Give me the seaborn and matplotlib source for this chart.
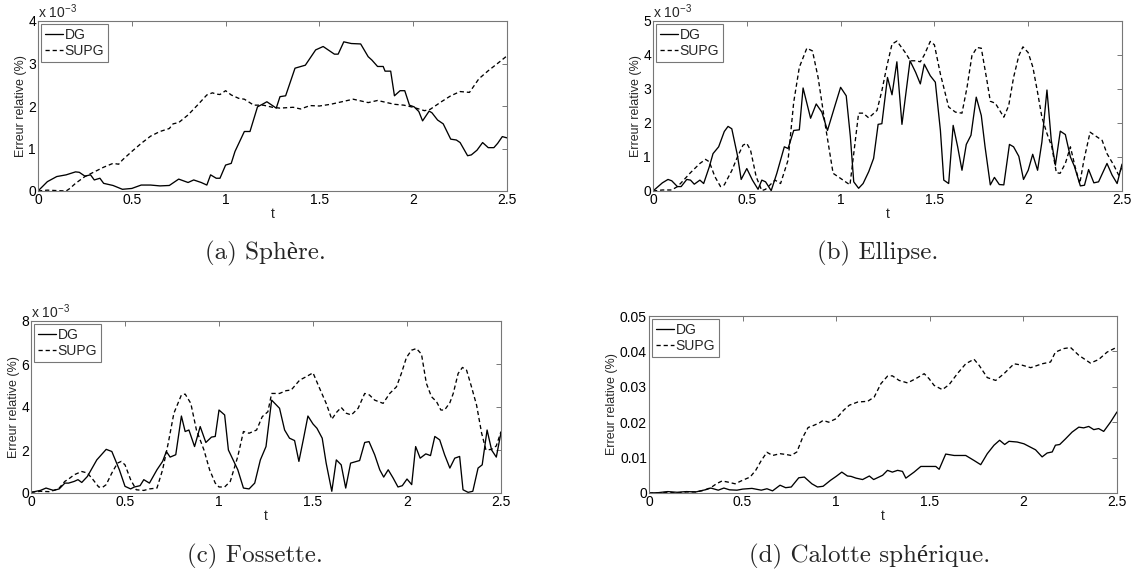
import matplotlib
matplotlib.use("Agg")
import matplotlib.pyplot as plt
import seaborn as sns
import pandas as pd

# ---------------- data ----------------
# (a) Sphere  (values in 1e-3 %)
t_sphere_dg = [0,0.05,0.1,0.15,0.2,0.22,0.25,0.28,0.3,0.33,0.35,0.4,0.45,0.5,0.55,0.6,0.65,0.7,0.75,0.8,
               0.83,0.87,0.9,0.92,0.95,0.97,1.0,1.03,1.05,1.1,1.13,1.17,1.2,1.22,1.27,1.29,1.32,1.37,1.425,1.48,
               1.52,1.58,1.6,1.63,1.67,1.72,1.76,1.78,1.81,1.84,1.85,1.88,1.9,1.93,1.955,1.98,2.005,2.03,2.05,2.085,
               2.1,2.13,2.16,2.2,2.23,2.25,2.29,2.31,2.34,2.37,2.4,2.43,2.45,2.475,2.5]
err_sphere_dg = [0,0.22,0.34,0.38,0.45,0.44,0.35,0.38,0.26,0.30,0.18,0.13,0.04,0.06,0.14,0.14,0.12,0.13,0.28,0.2,
                 0.26,0.2,0.14,0.38,0.3,0.3,0.61,0.65,0.93,1.4,1.4,1.98,2.05,2.1,1.95,2.22,2.24,2.89,2.96,3.32,
                 3.4,3.22,3.22,3.51,3.47,3.46,3.16,3.08,2.93,2.93,2.82,2.82,2.24,2.36,2.36,2.02,1.98,1.87,1.65,1.88,
                 1.84,1.67,1.58,1.22,1.2,1.14,0.83,0.85,0.96,1.14,1.02,1.02,1.12,1.28,1.25]
t_sphere_supg = [0,0.05,0.1,0.15,0.17,0.2,0.25,0.3,0.35,0.4,0.43,0.45,0.5,0.55,0.6,0.65,0.7,0.72,0.75,0.8,
                 0.85,0.9,0.93,0.95,0.97,1.0,1.03,1.07,1.1,1.15,1.2,1.25,1.29,1.36,1.4,1.45,1.5,1.56,1.62,1.68,
                 1.76,1.81,1.9,1.95,2.0,2.06,2.09,2.15,2.2,2.25,2.3,2.35,2.4,2.455,2.5]
err_sphere_supg = [0,0.02,0.01,0.0,0.06,0.18,0.34,0.45,0.56,0.65,0.63,0.73,0.93,1.12,1.29,1.4,1.47,1.58,1.61,1.79,
                   2.02,2.26,2.31,2.28,2.27,2.36,2.26,2.18,2.16,2.02,2.02,1.97,1.95,1.97,1.93,2.01,2.0,2.04,2.1,2.16,
                   2.08,2.13,2.04,2.02,1.97,1.89,1.92,2.1,2.24,2.34,2.32,2.64,2.83,3.02,3.18]

# (b) Ellipse (values in 1e-3 %)
t_ellipse_dg = [0,0.05,0.08,0.1,0.13,0.15,0.18,0.2,0.22,0.25,0.27,0.3,0.32,0.35,0.38,0.4,0.42,0.45,0.47,0.5,
                0.53,0.56,0.58,0.6,0.63,0.66,0.7,0.72,0.75,0.78,0.8,0.84,0.87,0.9,0.93,0.97,1.0,1.03,1.052,1.07,
                1.096,1.12,1.15,1.176,1.2,1.22,1.25,1.274,1.3,1.327,1.37,1.4,1.425,1.446,1.478,1.505,1.532,1.55,1.576,1.6,
                1.624,1.647,1.67,1.695,1.723,1.75,1.77,1.798,1.82,1.846,1.87,1.9,1.922,1.95,1.975,2.0,2.024,2.05,2.073,2.1,
                2.123,2.145,2.171,2.198,2.225,2.246,2.278,2.3,2.322,2.35,2.375,2.42,2.447,2.474,2.5]
err_ellipse_dg = [0,0.24,0.34,0.3,0.13,0.13,0.34,0.32,0.2,0.32,0.22,0.71,1.1,1.3,1.75,1.9,1.83,1.05,0.34,0.66,
                  0.32,0.05,0.32,0.27,0.01,0.52,1.3,1.25,1.78,1.8,3.03,2.14,2.56,2.32,1.78,2.51,3.05,2.8,1.6,0.27,
                  0.08,0.22,0.57,0.96,1.96,1.98,3.34,2.83,3.8,1.96,3.83,3.49,3.15,3.73,3.39,3.2,1.78,0.32,0.22,1.93,
                  1.3,0.61,1.37,1.64,2.76,2.22,1.3,0.18,0.4,0.19,0.18,1.37,1.3,1.02,0.34,0.61,1.08,0.61,1.44,2.97,
                  1.49,0.76,1.76,1.66,1.0,0.73,0.15,0.17,0.63,0.24,0.27,0.81,0.47,0.22,0.79]
t_ellipse_supg = [0,0.05,0.1,0.13,0.15,0.2,0.25,0.28,0.3,0.33,0.36,0.38,0.42,0.45,0.48,0.5,0.52,0.55,0.58,0.6,
                  0.65,0.68,0.72,0.75,0.78,0.82,0.85,0.88,0.92,0.96,1.0,1.05,1.096,1.12,1.15,1.194,1.22,1.247,1.274,1.3,
                  1.345,1.372,1.4,1.425,1.446,1.478,1.5,1.532,1.576,1.612,1.647,1.674,1.7,1.727,1.75,1.78,1.798,1.825,1.87,1.896,
                  1.922,1.95,1.972,2.0,2.025,2.05,2.073,2.1,2.126,2.15,2.17,2.198,2.225,2.25,2.275,2.297,2.33,2.367,2.394,2.42,
                  2.456,2.482,2.5]
err_ellipse_supg = [0,0.03,0.03,0.13,0.24,0.54,0.81,0.93,0.86,0.42,0.13,0.18,0.6,1.0,1.35,1.4,1.2,0.42,0.01,0.05,
                    0.32,0.22,0.91,2.61,3.64,4.2,4.12,3.34,1.88,0.52,0.37,0.18,2.29,2.29,2.15,2.37,2.95,3.68,4.32,4.41,
                    4.07,3.83,3.83,3.8,4.0,4.4,4.3,3.44,2.47,2.32,2.29,3.05,3.98,4.22,4.2,3.25,2.64,2.58,2.17,2.51,
                    3.34,3.98,4.24,4.07,3.64,2.9,2.17,1.69,1.3,0.54,0.52,0.81,1.3,0.71,0.22,0.91,1.73,1.59,1.49,1.1,
                    0.76,0.47,0.71]

# (c) Fossette (values in 1e-3 %)
t_fossette_dg = [0,0.05,0.08,0.12,0.15,0.18,0.2,0.23,0.25,0.27,0.3,0.35,0.4,0.43,0.47,0.5,0.53,0.55,0.58,0.6,
                 0.63,0.67,0.7,0.72,0.74,0.77,0.8,0.82,0.84,0.87,0.9,0.93,0.96,0.98,1.0,1.03,1.05,1.1,1.13,1.16,
                 1.19,1.22,1.25,1.28,1.322,1.349,1.375,1.402,1.425,1.45,1.473,1.5,1.521,1.549,1.57,1.6,1.624,1.65,1.674,1.7,
                 1.748,1.775,1.798,1.828,1.855,1.876,1.9,1.926,1.952,1.975,2.0,2.025,2.046,2.07,2.1,2.125,2.148,2.174,2.2,2.228,
                 2.254,2.28,2.298,2.325,2.35,2.378,2.4,2.426,2.45,2.475,2.5]
err_fossette_dg = [0.03,0.12,0.23,0.12,0.19,0.46,0.46,0.54,0.62,0.49,0.77,1.54,2.03,1.93,1.08,0.31,0.19,0.28,0.34,0.62,
                   0.46,1.08,1.47,1.93,1.67,1.78,3.58,2.86,2.93,2.16,3.09,2.35,2.6,2.63,3.86,3.63,2.0,1.08,0.23,0.19,
                   0.46,1.54,2.16,4.32,3.94,2.93,2.55,2.44,1.47,2.55,3.58,3.21,3.01,2.55,1.39,0.08,1.54,1.31,0.23,1.39,
                   1.51,2.35,2.39,1.78,1.08,0.74,1.08,0.7,0.28,0.34,0.65,0.39,2.16,1.62,1.82,1.74,2.63,2.47,1.78,1.16,
                   1.62,1.7,0.15,0.03,0.08,1.16,1.31,2.93,2.0,1.67,2.81]
t_fossette_supg = [0,0.05,0.1,0.13,0.15,0.18,0.2,0.23,0.27,0.3,0.33,0.36,0.38,0.4,0.43,0.46,0.48,0.5,0.53,0.56,
                   0.6,0.63,0.67,0.7,0.73,0.76,0.8,0.82,0.85,0.88,0.92,0.95,0.98,1.0,1.03,1.06,1.1,1.13,1.16,1.2,
                   1.23,1.26,1.28,1.322,1.357,1.384,1.429,1.464,1.5,1.535,1.57,1.6,1.624,1.65,1.677,1.704,1.74,1.775,1.8,1.828,
                   1.873,1.908,1.944,1.97,1.997,2.024,2.05,2.077,2.103,2.13,2.157,2.18,2.2,2.228,2.246,2.272,2.295,2.317,2.343,2.37,
                   2.397,2.42,2.45,2.475,2.5]
err_fossette_supg = [0.03,0.08,0.06,0.15,0.23,0.54,0.65,0.85,1.0,0.93,0.62,0.28,0.26,0.39,0.93,1.39,1.47,1.31,0.62,0.15,
                     0.12,0.19,0.23,1.08,2.32,3.71,4.56,4.6,4.17,2.93,2.0,1.08,0.46,0.28,0.28,0.54,1.7,2.86,2.78,2.93,
                     3.55,3.78,4.63,4.63,4.76,4.79,5.25,5.41,5.59,4.87,4.17,3.43,3.74,3.98,3.71,3.63,3.94,4.63,4.56,4.32,
                     4.17,4.63,4.94,5.56,6.3,6.64,6.72,6.46,5.1,4.48,4.25,3.86,3.86,4.2,4.63,5.56,5.84,5.71,4.94,4.09,
                     2.78,2.0,2.03,2.19,2.86]

# (d) Calotte spherique (values in %)
t_calotte_dg = [0,0.05,0.1,0.15,0.2,0.25,0.3,0.33,0.37,0.4,0.43,0.47,0.5,0.55,0.6,0.63,0.66,0.7,0.73,0.76,
                0.8,0.83,0.87,0.9,0.93,0.97,1.0,1.03,1.06,1.079,1.106,1.141,1.177,1.2,1.248,1.274,1.3,1.328,1.354,1.372,
                1.416,1.452,1.496,1.532,1.55,1.585,1.63,1.692,1.736,1.772,1.807,1.843,1.873,1.9,1.923,1.967,2.003,2.065,2.1,2.127,
                2.154,2.171,2.194,2.225,2.26,2.296,2.322,2.349,2.376,2.402,2.429,2.465,2.5]
err_calotte_dg = [0,0.0001,0.0004,0.0002,0.0004,0.0003,0.0009,0.0014,0.0008,0.0014,0.0009,0.0008,0.0011,0.0013,0.0008,0.0012,0.0006,0.0022,0.0015,0.0017,
                  0.0043,0.0045,0.0026,0.0017,0.0019,0.0036,0.0047,0.0059,0.0048,0.0047,0.0042,0.0038,0.0048,0.0038,0.005,0.0064,0.0059,0.0064,0.0061,0.0042,
                  0.0059,0.0075,0.0075,0.0075,0.0067,0.011,0.0106,0.0106,0.0092,0.008,0.0111,0.0135,0.0149,0.0137,0.0146,0.0144,0.0139,0.0122,0.0102,0.0113,
                  0.0116,0.0135,0.0137,0.0153,0.0172,0.0186,0.0184,0.0188,0.0179,0.0182,0.0174,0.02,0.0229]
t_calotte_supg = [0,0.05,0.1,0.15,0.2,0.25,0.28,0.3,0.33,0.36,0.39,0.42,0.46,0.5,0.54,0.57,0.6,0.63,0.66,0.7,
                  0.73,0.76,0.79,0.82,0.85,0.88,0.91,0.93,0.96,1.0,1.04,1.07,1.115,1.168,1.203,1.239,1.274,1.3,1.336,1.381,
                  1.425,1.47,1.496,1.523,1.567,1.603,1.647,1.692,1.736,1.763,1.807,1.852,1.896,1.95,1.994,2.039,2.1,2.145,2.171,2.216,
                  2.252,2.296,2.358,2.402,2.447,2.5]
err_calotte_supg = [0,0,0.0002,0,0.0003,0.0003,0.0006,0.0009,0.0015,0.0026,0.0034,0.0031,0.0026,0.0036,0.0045,0.0064,0.0092,0.0115,0.0106,0.0111,
                    0.0109,0.0106,0.0116,0.0156,0.0185,0.0191,0.0198,0.0205,0.02,0.021,0.0234,0.0248,0.0257,0.0259,0.0271,0.0309,0.033,0.0331,0.0318,0.0311,
                    0.0323,0.0337,0.0323,0.0304,0.0292,0.0306,0.0337,0.0365,0.0378,0.0361,0.0326,0.0318,0.0337,0.0365,0.0361,0.0354,0.0365,0.037,0.0398,0.0408,
                    0.0411,0.0389,0.0367,0.0377,0.0398,0.0412]

x_ticks = [0, 0.5, 1, 1.5, 2, 2.5]
x_tick_labels = ["0", "0.5", "1", "1.5", "2", "2.5"]
series_labels = ["DG", "SUPG"]
captions = ["(a) Sphère.", "(b) Ellipse.", "(c) Fossette.", "(d) Calotte sphérique."]
ylabel_text = "Erreur relative (%)"
xlabel_text = "t"

# ---------------- style ----------------
sns.set_theme(style="white")
plt.rcParams["font.family"] = ["Liberation Sans", "DejaVu Sans"]
plt.rcParams["mathtext.fontset"] = "custom"
plt.rcParams["mathtext.rm"] = "Liberation Sans"
plt.rcParams["mathtext.it"] = "Liberation Sans"

GRAY = "#777777"
W, H = 1138, 577
fig = plt.figure(figsize=(W / 100, H / 100), dpi=100)
fig.patch.set_facecolor("white")

def rect(l, t, r, b):
    return [l / W, 1 - b / H, (r - l) / W, (b - t) / H]

panels = [
    dict(box=rect(38, 21, 507, 191), dg=(t_sphere_dg, err_sphere_dg), supg=(t_sphere_supg, err_sphere_supg),
         ylim=(0, 4), yticks=[0, 1, 2, 3, 4], ylabels=["0", "1", "2", "3", "4"], sci=True,
         cap=(265, 253)),
    dict(box=rect(653, 21, 1122, 191), dg=(t_ellipse_dg, err_ellipse_dg), supg=(t_ellipse_supg, err_ellipse_supg),
         ylim=(0, 5), yticks=[0, 1, 2, 3, 4, 5], ylabels=["0", "1", "2", "3", "4", "5"], sci=True,
         cap=(878, 253)),
    dict(box=rect(31, 321, 501, 493), dg=(t_fossette_dg, err_fossette_dg), supg=(t_fossette_supg, err_fossette_supg),
         ylim=(0, 8), yticks=[0, 2, 4, 6, 8], ylabels=["0", "2", "4", "6", "8"], sci=True,
         cap=(255, 556)),
    dict(box=rect(649, 316, 1117, 493), dg=(t_calotte_dg, err_calotte_dg), supg=(t_calotte_supg, err_calotte_supg),
         ylim=(0, 0.05), yticks=[0, 0.01, 0.02, 0.03, 0.04, 0.05],
         ylabels=["0", "0.01", "0.02", "0.03", "0.04", "0.05"], sci=False,
         cap=(870, 556)),
]

for p, cap in zip(panels, captions):
    ax = fig.add_axes(p["box"])
    ax.set_facecolor("white")
    df_dg = pd.DataFrame({"t": p["dg"][0], "err": p["dg"][1]})
    df_supg = pd.DataFrame({"t": p["supg"][0], "err": p["supg"][1]})
    sns.lineplot(data=df_dg, x="t", y="err", ax=ax, color="black", linewidth=0.95,
                 estimator=None, sort=False, label=series_labels[0])
    sns.lineplot(data=df_supg, x="t", y="err", ax=ax, color="black", linewidth=0.95,
                 linestyle=(0, (3.2, 2.2)), estimator=None, sort=False, label=series_labels[1])
    ax.set_xlim(0, 2.5)
    ax.set_ylim(*p["ylim"])
    ax.set_xticks(x_ticks)
    ax.set_xticklabels(x_tick_labels)
    ax.set_yticks(p["yticks"])
    ax.set_yticklabels(p["ylabels"])
    ax.set_xlabel(xlabel_text, fontsize=10, labelpad=0)
    ax.set_ylabel(ylabel_text, fontsize=9, labelpad=1)
    ax.tick_params(direction="in", top=True, right=True, length=3.5, width=0.7,
                   color=GRAY, labelsize=10, pad=1.5, labelcolor="black")
    for s in ax.spines.values():
        s.set_visible(True)
        s.set_color(GRAY)
        s.set_linewidth(0.8)
    ax.grid(False)
    leg = ax.legend(loc="upper left", frameon=True, fancybox=False, edgecolor=GRAY, framealpha=1,
                    fontsize=10, handlelength=1.3, handletextpad=0.1, borderpad=0.3,
                    labelspacing=0.15, borderaxespad=0.2)
    leg.get_frame().set_linewidth(0.8)
    if p["sci"]:
        ax.text(0.0, 1.0, r"x 10$^{\mathrm{-3}}$", transform=ax.transAxes, ha="left", va="bottom",
                fontsize=10)
    fig.text(p["cap"][0] / W, 1 - p["cap"][1] / H, cap, ha="center", va="center",
             fontsize=18, family=["cmr10", "Liberation Serif"])

fig.savefig("out.png", dpi=100, facecolor="white")
